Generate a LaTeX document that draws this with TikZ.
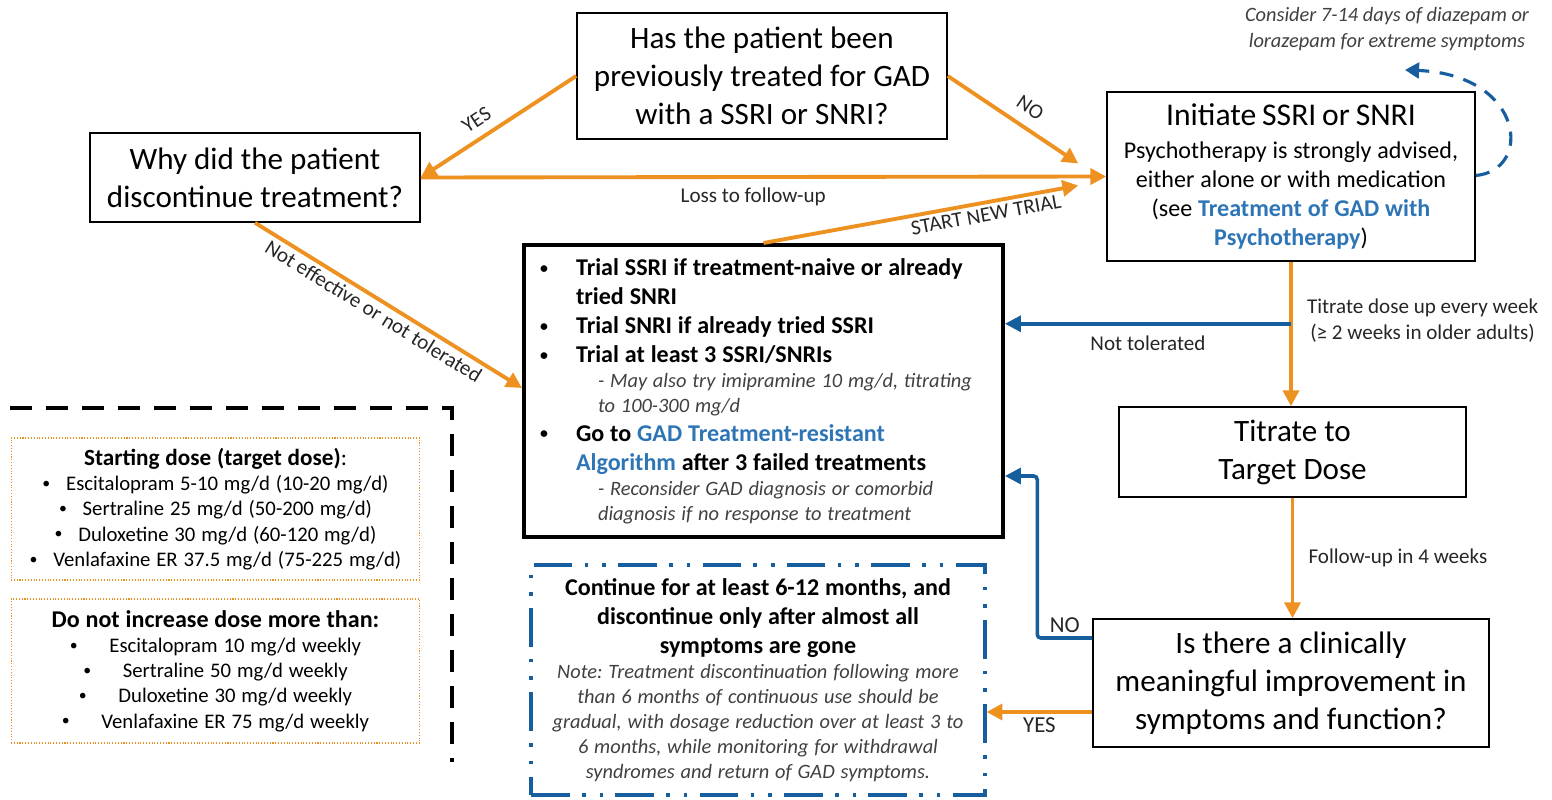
\documentclass[tikz,border=0pt]{standalone}
\usepackage{fontspec}
\setmainfont{Carlito}
\usetikzlibrary{arrows.meta}
\usetikzlibrary{calc}

\setlength{\parindent}{0pt}
\frenchspacing

\definecolor{gadorange}{RGB}{237,145,33}
\definecolor{gadblue}{RGB}{23,94,158}
\definecolor{linkblue}{RGB}{46,117,182}
\definecolor{notegray}{RGB}{64,64,64}

\newcommand{\bigtext}{\fontsize{17.7}{21.6}\selectfont}
\newcommand{\midtext}{\fontsize{13.7}{16.5}\selectfont}
\newcommand{\smalltext}{\fontsize{11.6}{14.2}\selectfont}
\newcommand{\labeltext}{\fontsize{12}{14.8}\selectfont}
\newcommand{\link}[1]{\textcolor{linkblue}{\textbf{#1}}}
\newcommand{\smallbullet}{\raisebox{1.3pt}{\fontsize{9}{9}\selectfont\textbullet}}

\newcommand{\titleline}[1]{\fontsize{18}{21.6}\selectfont #1\par\vspace{2.3pt}}
\newcommand{\plainline}[1]{\midtext #1\par}
\newcommand{\trialitem}[1]{\midtext\bfseries\upshape\color{black}\makebox[20.5pt][l]{\smallbullet}#1\par}
\newcommand{\trialmore}[1]{\midtext\bfseries\upshape\color{black}\hspace*{20.5pt}#1\par}
\newcommand{\trialnote}[1]{\smalltext\mdseries\itshape\color{notegray}\hspace*{33pt}#1\par}
\newcommand{\boldline}[1]{\midtext\bfseries\upshape\color{black}#1\par}
\newcommand{\noteline}[1]{\smalltext\mdseries\itshape\color{notegray}#1\par}
\newcommand{\dosehead}[2]{\fontsize{#1}{14.4}\selectfont #2\par}
\newcommand{\doseitem}[2]{\fontsize{11.8}{14.4}\selectfont\mdseries\smallbullet\hspace{#1}#2\par}

\tikzset{
  plainbox/.style={draw, line width=0.9pt, inner sep=0pt, align=center},
  trialbox/.style={draw, line width=2.3pt, inner xsep=0.32cm, inner ysep=0pt, align=left, text width=8.94cm, minimum height=5.84cm},
  contbox/.style={draw=gadblue, line width=1.8pt, dash pattern=on 22pt off 7pt on 2pt off 8pt on 2pt off 7pt, align=center, text width=8.8cm, inner xsep=0.14cm, minimum height=4.6cm},
  dosebox/.style={draw=gadorange, line width=0.6pt, densely dotted, align=center, text width=8.0cm, inner xsep=0.09cm},
  orangearrow/.style={draw=gadorange, line width=2.2pt, -{Triangle[length=9pt,width=9pt]}},
  bluearrow/.style={draw=gadblue, line width=2pt, -{Triangle[length=9pt,width=9pt]}},
  edgelabel/.style={font=\labeltext, text=black!85, inner sep=2pt},
}

\begin{document}
\begin{tikzpicture}[x=0.02cm, y=-0.02cm]

\useasboundingbox (0,0) rectangle (1552,800);

\node[plainbox, minimum width=7.4cm, minimum height=2.52cm, font=\bigtext] (prevtx) at (762,76) {Has the patient been\\previously treated for GAD\\with a SSRI or SNRI?};
\node[plainbox, minimum width=6.6cm, minimum height=1.78cm, font=\bigtext] (whystop) at (255,177.5) {Why did the patient\\discontinue treatment?};
\node[plainbox, minimum width=7.36cm, minimum height=3.38cm, text width=7.2cm] (initiate) at (1291,176.5) {%
  \titleline{Initiate SSRI or SNRI}
  \plainline{Psychotherapy is strongly advised,}
  \plainline{either alone or with medication}
  \plainline{(see \link{Treatment of GAD with}}
  \plainline{\link{Psychotherapy})}};
\node[plainbox, minimum width=6.94cm, minimum height=1.8cm, font=\bigtext] (titrate) at (1292.5,452) {Titrate to\\Target Dose};
\node[plainbox, minimum width=7.92cm, minimum height=2.56cm, font=\bigtext] (improve) at (1291,683) {Is there a clinically\\meaningful improvement in\\symptoms and function?};

\node[trialbox] (trial) at (763.5,391) {%
  \trialitem{Trial SSRI if treatment-naive or already}
  \trialmore{tried SNRI}
  \trialitem{Trial SNRI if already tried SSRI}
  \trialitem{Trial at least 3 SSRI/SNRIs}
  \trialnote{- May also try imipramine 10 mg/d, titrating}
  \trialnote{to 100-300 mg/d}
  \trialitem{Go to \link{GAD Treatment-resistant}}
  \trialmore{\link{Algorithm} after 3 failed treatments}
  \trialnote{- Reconsider GAD diagnosis or comorbid}
  \trialnote{diagnosis if no response to treatment}};

\node[contbox] (cont) at (758,680) {%
  \boldline{Continue for at least 6-12 months, and}
  \boldline{discontinue only after almost all}
  \boldline{symptoms are gone}
  \noteline{Note: Treatment discontinuation following more}
  \noteline{than 6 months of continuous use should be}
  \noteline{gradual, with dosage reduction over at least 3 to}
  \noteline{6 months, while monitoring for withdrawal}
  \noteline{syndromes and return of GAD symptoms.}};

\node[dosebox, minimum height=2.84cm] (startdose) at (215.5,509) {%
  \dosehead{13.2}{\textbf{Starting dose (target dose)}:}
  \doseitem{9pt}{Escitalopram 5-10 mg/d (10-20 mg/d)}
  \doseitem{9pt}{Sertraline 25 mg/d (50-200 mg/d)}
  \doseitem{9pt}{Duloxetine 30 mg/d (60-120 mg/d)}
  \doseitem{9pt}{Venlafaxine ER 37.5 mg/d (75-225 mg/d)}};
\node[dosebox, minimum height=2.88cm] (maxdose) at (215.5,671) {%
  \dosehead{13.7}{\textbf{Do not increase dose more than:}}
  \doseitem{18pt}{Escitalopram 10 mg/d weekly}
  \doseitem{18pt}{Sertraline 50 mg/d weekly}
  \doseitem{18pt}{Duloxetine 30 mg/d weekly}
  \doseitem{18pt}{Venlafaxine ER 75 mg/d weekly}};

\node[font=\fontsize{11.6}{14.8}\selectfont\itshape, align=center, text=notegray] (consider) at (1387,29) {Consider 7-14 days of diazepam or\\lorazepam for extreme symptoms};

\draw[line width=2.6pt, dash pattern=on 12.5pt off 8pt] (10,408) -- (452,408) -- (452,762);

\draw[orangearrow] (prevtx.west) -- node[edgelabel, sloped, above=3pt, pos=0.58] {YES} (whystop.east);
\draw[orangearrow] (prevtx.east) -- node[edgelabel, sloped, above=4pt, pos=0.55] {NO} ($(initiate.west)+(-28,-13)$);
\draw[orangearrow] (whystop.east) -- node[edgelabel, below=3pt, pos=0.485] {Loss to follow-up} (initiate.west);
\draw[orangearrow] (trial.north) -- node[edgelabel, sloped, below, pos=0.7] {START NEW TRIAL} ($(initiate.west)+(-28,9)$);
\draw[orangearrow] (whystop.south) -- node[edgelabel, sloped, below, pos=0.47] {Not effective or not tolerated} ($(trial.west)+(0,-3)$);
\draw[orangearrow] (initiate.south) -- node[edgelabel, right=6pt, pos=0.41, align=center] {Titrate dose up every week\\(≥ 2 weeks in older adults)} (initiate.south |- titrate.north);
\draw[orangearrow] (titrate.south) -- node[edgelabel, right=6pt] {Follow-up in 4 weeks} (titrate.south |- improve.north);

\coordinate (nottol) at ($(initiate.south)+(0,62)$);
\draw[bluearrow] (nottol) -- node[edgelabel, below=4pt] {Not tolerated} (trial.east |- nottol);

\coordinate (noout) at ($(improve.west)+(0,-45)$);
\coordinate (noin) at ($(trial.east)+(0,85)$);
\draw[bluearrow, rounded corners=2pt] (noout) -- node[edgelabel, font=\fontsize{13}{14}\selectfont, above, pos=0.5] {NO} ++(-55,0) |- (noin);

\coordinate (yesout) at ($(improve.west)+(0,29)$);
\draw[orangearrow] (yesout) -- node[edgelabel, font=\fontsize{13}{14}\selectfont, below] {YES} (cont.east |- yesout);

\draw[gadblue, line width=1.8pt, dash pattern=on 8pt off 6pt, -{Triangle[length=8pt,width=9pt]}] ($(initiate.east)+(0,-1)$) .. controls +(57,-5) and +(120,5) .. ($(consider.south)+(18,13)$);

\end{tikzpicture}
\end{document}
